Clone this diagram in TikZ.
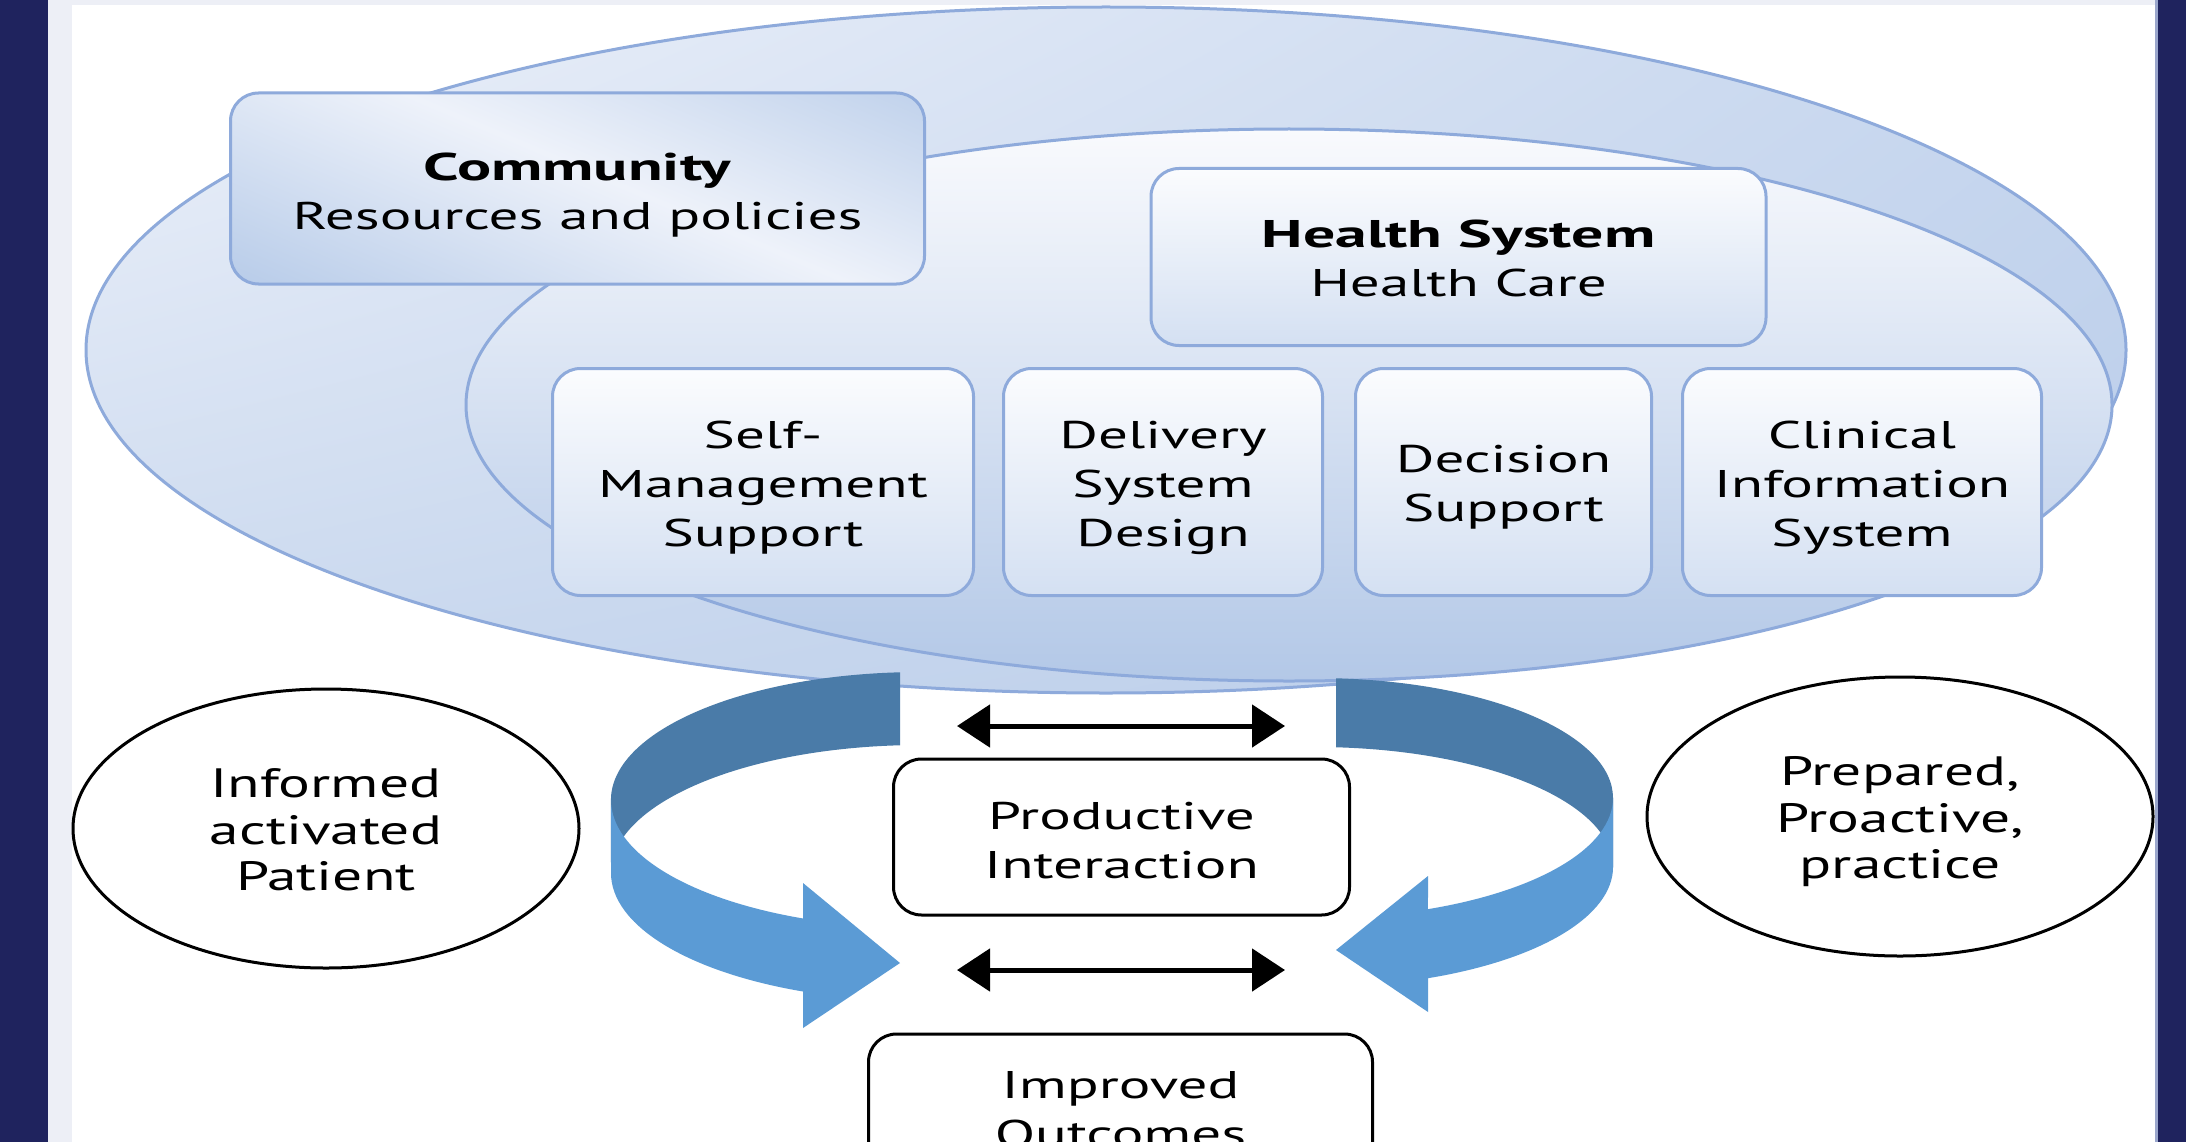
\documentclass[tikz,border=0pt]{standalone}
\usepackage{fontspec}
\setmainfont{PT Sans}
\newfontfamily\wide[FakeStretch=1.53]{PT Sans}
\newfontfamily\widebf[FakeStretch=1.65]{PT Sans}
\newfontfamily\ovalfam[FakeStretch=1.45]{PT Sans}
\usetikzlibrary{arrows.meta,shapes.geometric,shadings}

\definecolor{navy}{HTML}{1F235E}
\definecolor{panelgray}{HTML}{EDEFF6}
\definecolor{edgeline}{HTML}{9AA6CC}
\definecolor{rim}{HTML}{8EAADB}
\definecolor{paleA}{HTML}{EEF2FA}
\definecolor{paleB}{HTML}{C6D6EE}
\definecolor{paleC}{HTML}{C9D8EE}
\definecolor{paleD}{HTML}{BACDEA}
\definecolor{innertop}{HTML}{F9FAFD}
\definecolor{innerbot}{HTML}{B3C8E7}
\definecolor{boxtop}{HTML}{FBFCFE}
\definecolor{boxbot}{HTML}{D4E0F2}
\definecolor{commdark}{HTML}{B8CCE9}
\definecolor{commlight}{HTML}{EEF2FA}
\definecolor{loopdark}{HTML}{4A7BA8}
\definecolor{looplight}{HTML}{5B9BD5}

% diagonal band: darker at two opposite corners, pale through the middle
\pgfdeclarehorizontalshading{commband}{100bp}{%
  color(0bp)=(commdark); color(20bp)=(commdark); color(50bp)=(commlight);
  color(80bp)=(commdark); color(100bp)=(commdark)}

\newcommand\labfont{\wide\fontsize{38.6}{49}\selectfont}
\newcommand\ovalfont{\ovalfam\fontsize{41}{46.5}\selectfont}
\newcommand\headword[1]{{\widebf\bfseries #1}}

\tikzset{
  frame/.style={draw=rim, line width=3pt, rounded corners=28pt, inner sep=0pt},
  element/.style={frame, top color=boxtop, bottom color=boxbot},
  outcomebox/.style={draw=black, line width=3pt, rounded corners=28pt, fill=white,
                inner sep=0pt},
  lab/.style={font=\labfont, align=center, inner sep=0pt},
  oval/.style={ellipse, draw=black, line width=3pt, fill=white, inner sep=0pt,
               align=center, font=\ovalfont, minimum width=506pt, minimum height=279pt},
  twoway/.style={line width=5pt, {Triangle[length=33pt,width=42pt]}-{Triangle[length=33pt,width=42pt]}}
}

\begin{document}
\begin{tikzpicture}[x=1pt,y=-1pt]
\useasboundingbox (0,0) rectangle (2186,1142);

% page frame
\fill[navy] (0,0) rectangle (48,1142);
\fill[panelgray] (48,0) rectangle (72,1142);
\fill[panelgray] (72,0) rectangle (2158,5);
\fill[white] (72,5) rectangle (2155,1142);
\fill[edgeline] (2155,0) rectangle (2158,1142);
\fill[navy] (2158,0) rectangle (2186,1142);

% community and health system ellipses
\draw[draw=rim, line width=3pt, upper left=paleA, upper right=paleB,
      lower left=paleC, lower right=paleD]
  (1106,350) ellipse [x radius=1020pt, y radius=343pt];
\draw[draw=rim, line width=3pt, top color=innertop, bottom color=innerbot]
  (1289,405) ellipse [x radius=823pt, y radius=276pt];

% community box: diagonal banded fill, then its rim
\node[frame, draw=none, minimum width=691pt, minimum height=188pt]
  (comm) at (577.5,188.5) {};
\begin{scope}
  \clip[rounded corners=28pt] (comm.south west) rectangle (comm.north east);
  \pgftext[at={\pgfpoint{585pt}{-170pt}}, rotate=67]{\scalebox{8}{\pgfuseshading{commband}}}
\end{scope}
\draw[draw=rim, line width=3pt, rounded corners=28pt]
  (comm.south west) rectangle (comm.north east);

% other boxes of the upper part
\node[element, minimum width=615pt, minimum height=177pt] (hsys) at (1458.5,257) {};
\node[element, minimum width=421pt, minimum height=227pt] (selfm) at (763,482) {};
\node[element, minimum width=319pt, minimum height=227pt] (deliv) at (1163,482) {};
\node[element, minimum width=296pt, minimum height=227pt] (decis) at (1503.5,482) {};
\node[element, minimum width=359pt, minimum height=227pt] (clin) at (1862,482) {};

\node[lab] (commtext) at (577.5,195.5) {\headword{Community}\\Resources and policies};
\node[lab] (hsystext) at (1458.5,258.5) {\headword{Health System}\\Health Care};
\node[lab] (selfmtext) at (763,487.5) {Self-\\Management\\Support};
\node[lab] (delivtext) at (1163,487.5) {Delivery\\System\\Design};
\node[lab] (decistext) at (1503.5,487.5) {Decision\\Support};
\node[lab] (clintext) at (1862,487.5) {Clinical\\Information\\System};

% left loop arrow: back face, then front face with head
\fill[loopdark] (900,672.3)
  arc[start angle=93.7, end angle=180, x radius=309pt, y radius=128pt]
  -- (611,873)
  arc[start angle=180, end angle=93.7, x radius=309pt, y radius=128pt]
  -- cycle;
\fill[looplight] (611,800)
  arc[start angle=180, end angle=247.75, x radius=309pt, y radius=128pt]
  -- (803,883) -- (900,963) -- (803,1028) -- (803,991.5)
  arc[start angle=247.75, end angle=180, x radius=309pt, y radius=128pt]
  -- cycle;

% right loop arrow: back face, then front face with head
\fill[loopdark] (1336,678.3)
  arc[start angle=86.14, end angle=0, x radius=297pt, y radius=120pt]
  -- (1613,867)
  arc[start angle=0, end angle=86.14, x radius=297pt, y radius=120pt]
  -- cycle;
\fill[looplight] (1613,798)
  arc[start angle=360, end angle=292.15, x radius=297pt, y radius=120pt]
  -- (1428,876) -- (1336,950) -- (1428,1012) -- (1428,978.2)
  arc[start angle=292.15, end angle=360, x radius=297pt, y radius=120pt]
  -- cycle;

% lower row
\node[oval] (patient) at (326,828.5) {};
\node[oval] (practice) at (1900,816.5) {};
\node[lab, font=\ovalfont] (patienttext) at (326,830) {Informed\\activated\\Patient};
\node[lab, font=\ovalfont] (practicetext) at (1900,822) {Prepared,\\Proactive,\\practice};
\node[outcomebox, minimum width=456pt, minimum height=156pt] (prod) at (1121.5,837) {};
\node[outcomebox, minimum width=504pt, minimum height=160pt] (outc) at (1120.5,1114) {};
\node[lab] (prodtext) at (1121.5,840.5) {Productive\\Interaction};
\node[lab] (outctext) at (1120.5,1110) {Improved\\Outcomes};

% two-way arrows
\coordinate (upL) at (957,726);
\coordinate (upR) at (1285,726);
\coordinate (loL) at (957,970);
\coordinate (loR) at (1285,970);
\draw[twoway] (upL) -- (upR);
\draw[twoway] (loL) -- (loR);
\end{tikzpicture}
\end{document}
